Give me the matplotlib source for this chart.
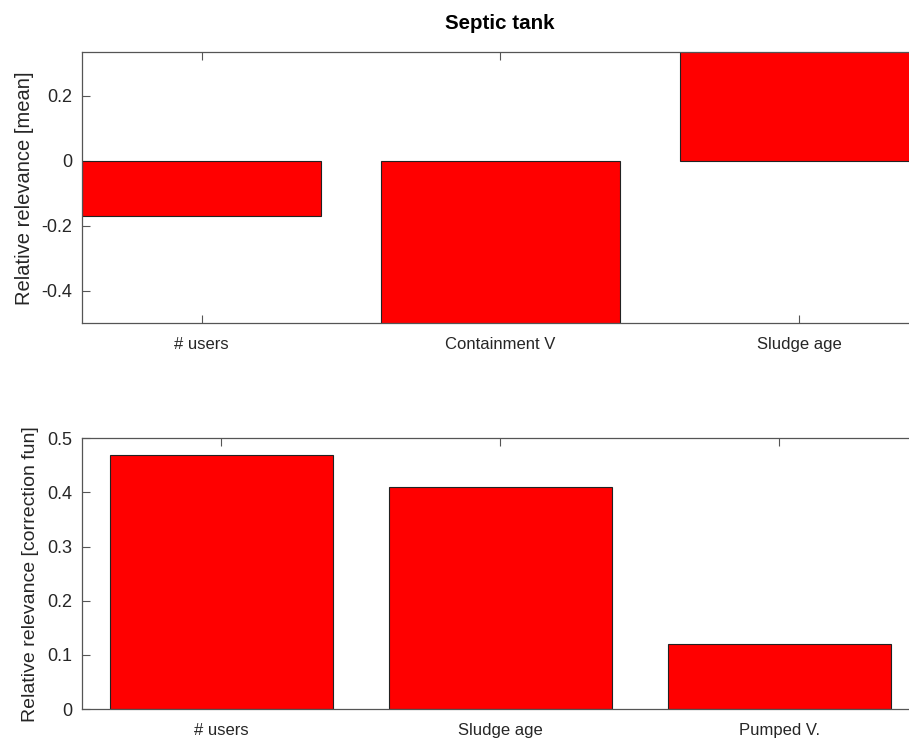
import matplotlib
matplotlib.use("Agg")
import matplotlib.pyplot as plt
import numpy as np

# Mean relative relevance per variable
mean_labels = ["# users", "Containment V", "Sludge age"]
mean_values = [-0.17, -0.53, 0.36]

# Relative relevance from the correction function
corr_labels = ["# users", "Sludge age", "Pumped V."]
corr_values = [0.47, 0.41, 0.12]

plt.rcParams["font.family"] = ["Liberation Sans", "DejaVu Sans"]
text_color = "#262626"
spine_color = "#555555"

W, H = 909, 741
fig = plt.figure(figsize=(W / 100, H / 100), dpi=100)

left = 82 / W
width = 836.7 / W
ax1 = fig.add_axes([left, 1 - 323.3 / H, width, 271.0 / H])
ax2 = fig.add_axes([left, 1 - 709.0 / H, width, 270.7 / H])


def style(ax):
    ax.set_axisbelow(True)
    for s in ax.spines.values():
        s.set_color(spine_color)
        s.set_linewidth(0.9)
    ax.tick_params(direction="in", length=6, width=0.8, color=spine_color,
                   labelcolor=text_color, top=True, right=True)
    ax.tick_params(axis="y", pad=7, labelsize=13)
    ax.tick_params(axis="x", pad=10, labelsize=12)


# Top panel
x1 = np.arange(1, len(mean_values) + 1)
ax1.bar(x1, mean_values, width=0.8, color="#ff0000", edgecolor="#222222",
        linewidth=0.8)
ax1.set_xlim(0.6, 3.4)
ax1.set_ylim(-0.5, 0.3333)
ax1.set_xticks(x1)
ax1.set_xticklabels(mean_labels)
ax1.set_yticks([-0.4, -0.2, 0, 0.2])
ax1.set_yticklabels(["-0.4", "-0.2", "0", "0.2"])
ax1.set_ylabel("Relative relevance [mean]", fontsize=14.5, color=text_color,
               labelpad=5)
style(ax1)
ax1.set_title("Septic tank", fontsize=14.8, fontweight="bold", color="black",
              pad=17, x=(500 - 82) / 836.7)

# Bottom panel
x2 = np.arange(1, len(corr_values) + 1)
ax2.bar(x2, corr_values, width=0.8, color="#ff0000", edgecolor="#222222",
        linewidth=0.8)
ax2.set_xlim(0.5, 3.5)
ax2.set_ylim(0, 0.5)
ax2.set_xticks(x2)
ax2.set_xticklabels(corr_labels)
ax2.set_yticks([0, 0.1, 0.2, 0.3, 0.4, 0.5])
ax2.set_yticklabels(["0", "0.1", "0.2", "0.3", "0.4", "0.5"])
ax2.set_ylabel("Relative relevance [correction fun]", fontsize=14,
               color=text_color, labelpad=6)
style(ax2)

fig.savefig("out.png", dpi=100)
